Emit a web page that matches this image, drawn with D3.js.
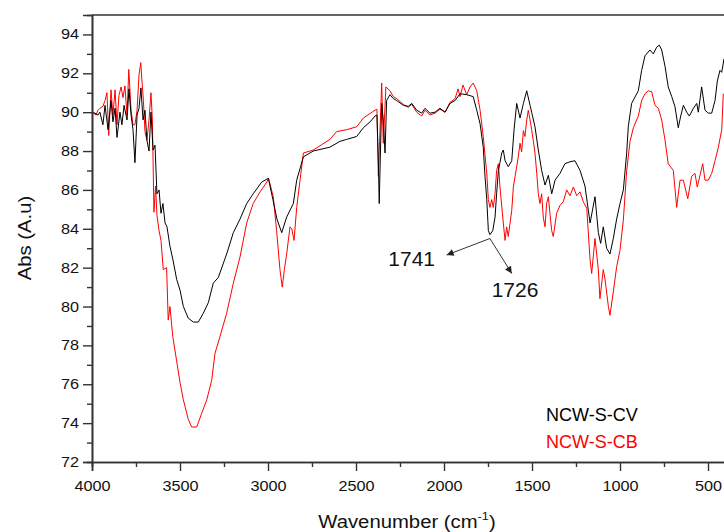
<!DOCTYPE html>
<html><head><meta charset="utf-8">
<script src="https://cdn.jsdelivr.net/npm/d3@7"></script>
<style>html,body{margin:0;padding:0;background:#fff;}svg{display:block;}</style>
</head><body>
<svg id="chart" width="724" height="532"></svg>
<script>
// ---- data ----
const cvWave = [4000,3983,3966,3955,3938,3926,3909,3892,3881,3869,3858,3841,3830,3818,3801,3790,3778,3767,3756,3744,3733,3722,3710,3699,3688,3676,3665,3653,3642,3631,3619,3608,3597,3585,3574,3557,3540,3519,3500,3481,3453,3424,3396,3368,3339,3311,3282,3235,3197,3159,3121,3084,3036,2998,2972,2949,2922,2894,2856,2837,2799,2743,2648,2591,2553,2496,2458,2420,2392,2381,2373,2368,2361,2354,2345,2335,2326,2307,2288,2269,2231,2203,2183,2155,2127,2108,2080,2051,2023,1994,1966,1937,1909,1871,1834,1814,1795,1777,1767,1757,1748,1739,1723,1710,1701,1691,1682,1672,1663,1653,1635,1615,1602,1587,1568,1549,1530,1511,1502,1483,1464,1445,1426,1407,1388,1369,1341,1313,1284,1256,1227,1199,1170,1142,1123,1110,1095,1076,1057,1038,1019,1000,981,962,953,934,896,877,858,830,811,791,777,763,744,726,706,688,669,655,640,621,606,583,564,555,536,517,498,479,460,447,432,422,409];
const cvAbs = [90.0,89.95,89.85,90.0,89.35,90.35,89.1,90.6,89.5,90.2,88.7,90.0,89.35,90.35,89.6,91.2,89.85,89.1,87.4,89.85,90.2,91.25,89.6,90.1,88.55,88.0,90.0,88.05,88.3,85.8,86.0,84.8,85.3,84.3,84.1,83.1,82.4,81.4,80.85,80.0,79.4,79.2,79.2,79.65,80.2,81.2,81.5,82.7,83.8,84.5,85.3,85.8,86.4,86.6,85.5,84.5,83.8,84.6,85.3,86.5,87.7,88.0,88.2,88.5,88.6,88.75,89.2,89.5,89.8,89.85,87.5,85.3,88.0,90.45,89.6,87.9,90.6,90.9,90.7,90.6,90.35,90.3,90.45,90.1,89.95,90.2,89.95,90.0,90.2,90.0,90.45,90.6,90.95,90.9,90.8,90.1,89.4,88.2,86.7,85.5,83.9,83.7,83.9,84.6,85.8,87.0,87.4,87.9,88.05,87.5,87.2,87.5,89.1,90.45,89.7,90.45,91.1,90.35,90.0,89.25,88.05,87.0,86.25,86.75,85.8,86.5,86.85,87.35,87.45,87.5,87.0,86.2,84.3,85.65,83.8,83.25,84.1,83.0,82.7,83.5,84.5,85.3,86.0,87.9,89.25,90.45,91.1,92.15,92.9,93.2,93.0,93.35,93.45,93.2,92.35,91.3,90.8,90.3,89.2,89.8,90.35,90.0,89.8,90.2,90.45,90.0,91.3,90.1,89.95,89.95,90.6,91.6,92.15,92.05,92.75];

const cbWave = [4000,3977,3966,3955,3938,3926,3915,3905,3892,3881,3869,3858,3847,3835,3824,3813,3801,3791,3778,3767,3756,3744,3733,3723,3716,3708,3699,3688,3676,3665,3657,3653,3648,3639,3631,3619,3608,3595,3576,3567,3557,3541,3519,3500,3481,3453,3434,3405,3377,3348,3320,3301,3273,3235,3197,3159,3121,3084,3045,3007,2997,2970,2951,2932,2919,2907,2894,2875,2865,2852,2837,2818,2799,2743,2648,2610,2553,2496,2458,2392,2381,2373,2366,2354,2345,2330,2307,2288,2269,2231,2203,2183,2155,2127,2108,2080,2051,2023,1994,1966,1937,1920,1909,1892,1871,1852,1834,1814,1795,1777,1757,1748,1739,1729,1720,1710,1701,1691,1682,1663,1653,1644,1635,1615,1606,1587,1578,1568,1559,1549,1540,1530,1521,1511,1502,1493,1483,1473,1464,1455,1445,1436,1426,1417,1407,1398,1388,1379,1360,1341,1322,1303,1284,1265,1246,1227,1209,1189,1170,1161,1142,1123,1114,1095,1085,1066,1057,1038,1019,1000,981,962,943,924,896,877,858,839,820,801,782,763,744,726,697,678,659,640,615,593,574,561,530,517,498,479,460,441,422,413];
const cbAbs = [90.0,89.85,90.1,90.2,90.3,90.6,91.0,88.8,91.15,89.85,91.15,89.35,90.85,91.3,90.75,91.35,89.85,92.2,90.1,89.35,89.35,90.1,91.9,92.55,91.6,90.6,89.0,88.55,89.6,91.0,89.6,87.5,84.85,86.2,84.7,83.9,83.4,81.9,82.0,79.3,80.0,78.45,77.2,76.1,75.2,74.2,73.8,73.8,74.5,75.2,76.2,77.6,78.45,79.65,81.2,82.55,84.3,85.3,85.9,86.4,86.6,85.65,83.9,81.9,81.0,81.9,82.7,84.1,84.0,83.4,85.1,86.5,87.9,88.05,88.6,89.0,89.1,89.25,89.7,90.1,90.15,86.7,88.5,91.5,88.4,91.3,91.1,90.8,90.7,90.4,90.25,90.4,90.0,89.8,90.1,89.85,89.95,90.15,90.0,90.5,90.7,91.2,90.8,91.4,90.9,91.3,91.5,91.1,90.1,88.75,86.85,85.5,85.1,85.5,85.1,85.8,87.0,87.35,86.15,84.3,83.4,84.1,83.6,84.95,86.15,87.2,87.7,88.4,87.95,89.05,88.75,89.6,90.1,89.6,89.1,88.55,87.9,86.85,85.8,85.3,85.8,84.6,84.1,85.3,85.65,84.8,83.9,83.6,84.8,85.2,85.4,86.0,85.7,86.15,85.7,85.9,85.4,85.05,82.4,81.7,83.5,81.9,80.4,81.9,81.4,80.0,79.55,80.75,82.05,82.9,84.45,87.0,88.5,89.2,89.8,90.6,90.95,91.1,91.05,90.35,90.2,89.6,88.55,87.35,87.0,85.1,86.5,86.5,85.55,86.7,86.85,86.15,87.35,86.5,86.5,86.85,87.5,88.2,89.1,90.95];

const xTicks = [4000,3500,3000,2500,2000,1500,1000,500];
const xMinor = [3750,3250,2750,2250,1750,1250,750];
const yTicks = [72,74,76,78,80,82,84,86,88,90,92,94];
const yMinor = [73,75,77,79,81,83,85,87,89,91,93];
const seriesNames = ["NCW-S-CV","NCW-S-CB"];
const seriesColors = ["#000000","#ff0000"];
const annotations = [
  {label:"1741", from:[1739,83.5], to:[1985,82.65], text:[2051,82.1], anchor:"end"},
  {label:"1726", from:[1739,83.5], to:[1615,81.7], text:[1729,80.5], anchor:"start"}
];

// ---- drawing ----
const svg = d3.select("#chart");
const x = d3.scaleLinear().domain([4000,400]).range([92,725.6]);
const y = d3.scaleLinear().domain([72,95]).range([462,15]);
const axisColor = "#333";
const stretch = 1.16;
const font = "Liberation Sans, Arial, sans-serif";

const defs = svg.append("defs");
defs.append("clipPath").attr("id","clip")
  .append("rect").attr("x",92).attr("y",15).attr("width",640).attr("height",447);
const marker = defs.append("marker").attr("id","arr")
  .attr("viewBox","0 0 10 10").attr("refX",10).attr("refY",5)
  .attr("markerWidth",9).attr("markerHeight",7).attr("markerUnits","userSpaceOnUse")
  .attr("orient","auto");
marker.append("path").attr("d","M0,0 L10,5 L0,10 Z").attr("fill","#222");

const line = d3.line().x(d=>x(d[0])).y(d=>y(d[1]));
const g = svg.append("g").attr("clip-path","url(#clip)");
g.append("path").datum(cbWave.map((w,i)=>[w,cbAbs[i]]))
  .attr("d",line).attr("fill","none").attr("stroke",seriesColors[1]).attr("stroke-width",1);
g.append("path").datum(cvWave.map((w,i)=>[w,cvAbs[i]]))
  .attr("d",line).attr("fill","none").attr("stroke",seriesColors[0]).attr("stroke-width",1);

// top frame line
svg.append("line").attr("x1",92).attr("x2",724).attr("y1",15).attr("y2",15)
  .attr("stroke",axisColor).attr("stroke-width",1.6);

// x axis
const xAxisG = svg.append("g").attr("transform","translate(0,462)");
xAxisG.call(d3.axisBottom(x).tickValues(xTicks).tickSize(9).tickFormat(d3.format("d")));
xAxisG.append("g").call(d3.axisBottom(x).tickValues(xMinor).tickSize(5).tickFormat(""));
xAxisG.selectAll(".domain").attr("stroke",axisColor).attr("stroke-width",1.6);
xAxisG.selectAll(".tick line").attr("stroke",axisColor).attr("stroke-width",1.4);
xAxisG.selectAll(".tick text").attr("font-family",font)
  .attr("font-size",14).attr("fill","#111").attr("y",19)
  .attr("transform",`scale(${stretch},1)`);

// y axis
const yAxisG = svg.append("g").attr("transform","translate(92,0)");
yAxisG.call(d3.axisLeft(y).tickValues(yTicks).tickSize(9));
yAxisG.append("g").call(d3.axisLeft(y).tickValues(yMinor).tickSize(5).tickFormat(""));
yAxisG.selectAll(".domain").attr("stroke",axisColor).attr("stroke-width",1.6);
yAxisG.selectAll(".tick line").attr("stroke",axisColor).attr("stroke-width",1.4);
yAxisG.selectAll(".tick text").attr("font-family",font)
  .attr("font-size",14).attr("fill","#111").attr("x",-13/stretch)
  .attr("transform",`scale(${stretch},1)`);

// axis titles
const xt = svg.append("text").attr("transform",`translate(407,528) scale(${stretch},1)`)
  .attr("text-anchor","middle").attr("font-family",font)
  .attr("font-size",17.5).attr("fill","#111");
xt.append("tspan").text("Wavenumber (cm");
xt.append("tspan").attr("font-size",11).attr("dy",-8).text("-1");
xt.append("tspan").attr("dy",8).text(")");

svg.append("text").attr("transform",`translate(31,238) rotate(-90) scale(${stretch},1)`)
  .attr("text-anchor","middle").attr("font-family",font)
  .attr("font-size",17.5).attr("fill","#111").text("Abs (A.u)");

// legend
seriesNames.forEach((n,i)=>{
  svg.append("text").attr("x",546).attr("y",420.7+i*27.6)
    .attr("font-family",font).attr("font-size",18)
    .attr("fill",seriesColors[i]).text(n);
});

// annotations
annotations.forEach(a=>{
  svg.append("line").attr("x1",x(a.from[0])).attr("y1",y(a.from[1]))
    .attr("x2",x(a.to[0])).attr("y2",y(a.to[1]))
    .attr("stroke","#333").attr("stroke-width",1).attr("marker-end","url(#arr)");
  svg.append("text").attr("x",x(a.text[0])).attr("y",y(a.text[1]))
    .attr("text-anchor",a.anchor).attr("font-family",font)
    .attr("font-size",21).attr("fill","#111").text(a.label);
});
</script>
</body></html>
